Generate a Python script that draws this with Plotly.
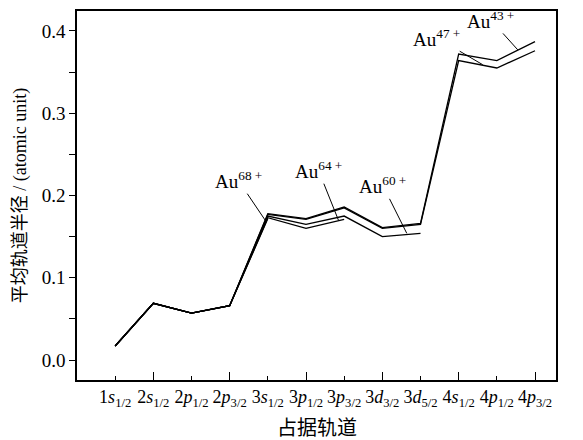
import plotly.graph_objects as go

orbitals = ["1<i>s</i><sub>1/2</sub>", "2<i>s</i><sub>1/2</sub>", "2<i>p</i><sub>1/2</sub>", "2<i>p</i><sub>3/2</sub>",
            "3<i>s</i><sub>1/2</sub>", "3<i>p</i><sub>1/2</sub>", "3<i>p</i><sub>3/2</sub>", "3<i>d</i><sub>3/2</sub>",
            "3<i>d</i><sub>5/2</sub>", "4<i>s</i><sub>1/2</sub>", "4<i>p</i><sub>1/2</sub>", "4<i>p</i><sub>3/2</sub>"]

au43 = [0.017, 0.069, 0.057, 0.066, 0.178, 0.172, 0.186, 0.161, 0.166, 0.372, 0.364, 0.387]
au47 = [0.017, 0.069, 0.057, 0.066, 0.177, 0.171, 0.185, 0.160, 0.165, 0.364, 0.355, 0.376]
au60 = [0.017, 0.069, 0.057, 0.066, 0.175, 0.165, 0.175, 0.150, 0.154]
au64 = [0.017, 0.069, 0.057, 0.066, 0.173, 0.160, 0.171]
au68 = [0.017, 0.069, 0.057, 0.066, 0.172]

series = [("Au43+", au43), ("Au47+", au47), ("Au60+", au60), ("Au64+", au64), ("Au68+", au68)]

x_title = "占据轨道"
y_title = "平均轨道半径 / (atomic unit)"

# label: (text, x index of pointer, y of pointer, ax, ay)
labels = [
    ("Au<sup>68 +</sup>", 3.93, 0.170, -27, -40),
    ("Au<sup>64 +</sup>", 5.85, 0.170, -20, -50),
    ("Au<sup>60 +</sup>", 7.64, 0.154, -24, -48),
    ("Au<sup>47 +</sup>", 9.63, 0.359, -46, -27),
    ("Au<sup>43 +</sup>", 10.55, 0.377, -27, -30),
]

FONT = "Liberation Serif, Noto Sans CJK SC"
BLACK = "black"

fig = go.Figure()
for name, vals in series:
    fig.add_trace(go.Scatter(x=list(range(len(vals))), y=vals, mode="lines", name=name,
                             line=dict(color=BLACK, width=1.3), showlegend=False))

for text, px, py, ax, ay in labels:
    fig.add_annotation(x=px, y=py, xref="x", yref="y", text=text, showarrow=True,
                       arrowhead=0, arrowwidth=1, arrowcolor=BLACK, ax=ax, ay=ay,
                       standoff=0, font=dict(family=FONT, size=19, color=BLACK))

# x-axis title as a paper annotation
fig.add_annotation(x=0.5, y=-0.13, xref="paper", yref="paper", text=x_title, showarrow=False,
                   xanchor="center", yanchor="middle", font=dict(family=FONT, size=20, color=BLACK))

# invisible trace on secondary x axis carrying the long ticks
fig.add_trace(go.Scatter(x=[0], y=[0], xaxis="x2", mode="markers", marker=dict(opacity=0),
                         showlegend=False, hoverinfo="skip"))

# the page body adds an 8px margin, so the figure is offset to compensate
fig.update_layout(
    width=567, height=432,
    margin=dict(l=69, r=19, t=3, b=60),
    paper_bgcolor="white", plot_bgcolor="white",
    font=dict(family=FONT, color=BLACK),
    xaxis=dict(range=[-1, 11.55], tickvals=list(range(12)), ticktext=orbitals,
               ticks="inside", ticklen=4, tickwidth=1.3, tickcolor=BLACK,
               showline=True, linecolor=BLACK, linewidth=1.5, mirror=True,
               showgrid=False, zeroline=False, automargin=False,
               tickfont=dict(family=FONT, size=18, color=BLACK)),
    xaxis2=dict(range=[-1, 11.55], overlaying="x", anchor="y", side="bottom",
                tickvals=[1, 3, 5, 7, 9, 11], showticklabels=False,
                ticks="inside", ticklen=8, tickwidth=1.3, tickcolor=BLACK,
                showgrid=False, zeroline=False, showline=False, automargin=False),
    yaxis=dict(range=[-0.0243, 0.4243], tickvals=[0, 0.1, 0.2, 0.3, 0.4],
               ticktext=["0.0", "0.1", "0.2", "0.3", "0.4"],
               ticks="outside", ticklen=6, tickwidth=1.3, tickcolor=BLACK,
               minor=dict(tickvals=[0.05, 0.15, 0.25, 0.35], ticks="outside", ticklen=6,
                          tickwidth=1.3, tickcolor=BLACK),
               showline=True, linecolor=BLACK, linewidth=1.5, mirror=True,
               showgrid=False, zeroline=False, automargin=False,
               tickfont=dict(family=FONT, size=19, color=BLACK),
               title=dict(text=y_title, font=dict(family=FONT, size=18, color=BLACK), standoff=10)),
)

fig.write_html("out.html")
